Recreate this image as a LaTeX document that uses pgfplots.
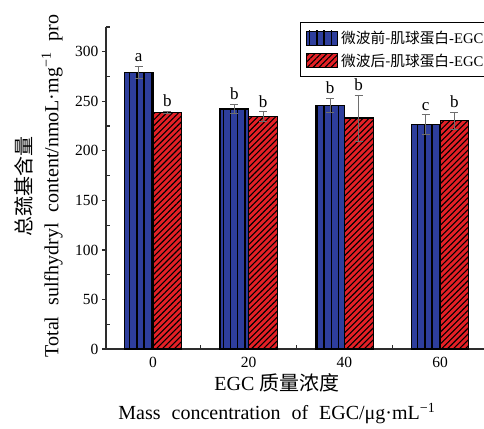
\documentclass[border=0pt]{standalone}
\usepackage{fontspec}
\setmainfont{Liberation Serif}
\newfontfamily\cjk{Noto Sans CJK SC}
\usepackage{pgfplots}
\pgfplotsset{compat=1.18}
\usetikzlibrary{patterns.meta}
\definecolor{cblue}{RGB}{46,62,156}
\definecolor{cred}{RGB}{228,32,38}
\definecolor{axgray}{RGB}{45,45,45}
\definecolor{errgray}{RGB}{110,110,110}
\newcommand\ws{\hspace{11pt}}
\begin{document}
\begin{tikzpicture}
\useasboundingbox (-106pt,-79pt) rectangle (378pt,349pt);
\begin{axis}[
  at={(0,0)}, anchor=south west,
  scale only axis, width=378pt, height=322pt,
  xmin=-0.491, xmax=3.459, ymin=0, ymax=325,
  axis x line*=bottom, axis y line*=left,
  axis line style={-, line width=1.6pt, axgray},
  tick align=inside,
  tick style={axgray, line width=1.2pt},
  major tick length=4pt,
  xtick={0.5,1.5,2.5}, xticklabels={},
  extra x ticks={0,1,2,3}, extra x tick labels={0,20,40,60},
  extra x tick style={major tick length=0pt, tick label style={yshift=-5pt}},
  ytick={25,75,...,325}, yticklabels={},
  extra y ticks={0,50,100,150,200,250,300},
  extra y tick labels={0,50,100,150,200,250,300},
  extra y tick style={tick align=outside},
  tick label style={font=\fontsize{15.5}{18}\selectfont, text=black},
  /pgf/number format/assume math mode=true,
  ylabel={{\cjk 总巯基含量}\\Total\ws sulfhydryl\ws content/nmoL·mg\textsuperscript{−1}\ws pro},
  ylabel style={at={(axis description cs:-0.1786,0.506)}, anchor=center, align=center, font=\fontsize{20}{27}\selectfont},
  xlabel={EGC {\cjk 质量浓度}\\Mass\ws concentration\ws of\ws EGC/μg·mL\textsuperscript{−1}},
  xlabel style={at={(axis description cs:0.452,-0.155)}, anchor=center, align=center, font=\fontsize{20}{29}\selectfont},
  legend style={at={(0.513,1.0155)}, anchor=north west, draw=black, line width=0.9pt,
    font=\fontsize{14.7}{17}\selectfont, cells={anchor=west},
    inner xsep=6pt, inner ysep=6.5pt, row sep=5pt, nodes={inner xsep=3pt, inner ysep=2pt}},
  legend image code/.code={\draw[#1, line width=0.8pt] (0pt,-7pt) rectangle (31pt,7pt);},
]
\addplot[ybar, bar width=0.3, bar shift=0pt, fill=cblue, draw=black, line width=1.1pt,
  postaction={pattern={Lines[angle=90,distance=7.2pt,line width=1.4pt]}},
  error bars/.cd, y dir=both, y explicit,
  error bar style={errgray, line width=0.7pt},
  error mark options={rotate=90, mark size=4pt, errgray, line width=0.7pt}]
  table[x=x, y=y, y error=e] {
  x y e
  -0.15 279.2 6.1
  0.85 242.2 4.8
  1.85 246.0 7.4
  2.85 226.8 9.8
  };
\addlegendentry{{\cjk 微波前-肌球蛋白}-EGC}
\addplot[ybar, bar width=0.3, bar shift=0pt, fill=cred, draw=black, line width=1.1pt,
  postaction={pattern={Lines[angle=45,distance=4.2pt,line width=1.1pt]}},
  error bars/.cd, y dir=both, y explicit,
  error bar style={errgray, line width=0.7pt},
  error mark options={rotate=90, mark size=4pt, errgray, line width=0.7pt}]
  table[x=x, y=y, y error=e] {
  x y e
  0.15 239.0 1.0
  1.15 234.6 5.0
  2.15 233.2 23.2
  3.15 230.5 8.7
  };
\addlegendentry{{\cjk 微波后-肌球蛋白}-EGC}
\addplot[draw=none, mark=none, forget plot, nodes near coords, point meta=explicit symbolic,
  nodes near coords style={font=\fontsize{17}{20}\selectfont, anchor=south, inner sep=1pt, yshift=3pt, text=black}]
  table[x=x, y=y, meta=l] {
  x y l
  -0.15 285.3 a
  0.15 240.0 b
  0.85 247.0 b
  1.15 239.6 b
  1.85 253.4 b
  2.15 256.4 b
  2.85 236.6 c
  3.15 239.2 b
  };
\end{axis}
\end{tikzpicture}
\end{document}
